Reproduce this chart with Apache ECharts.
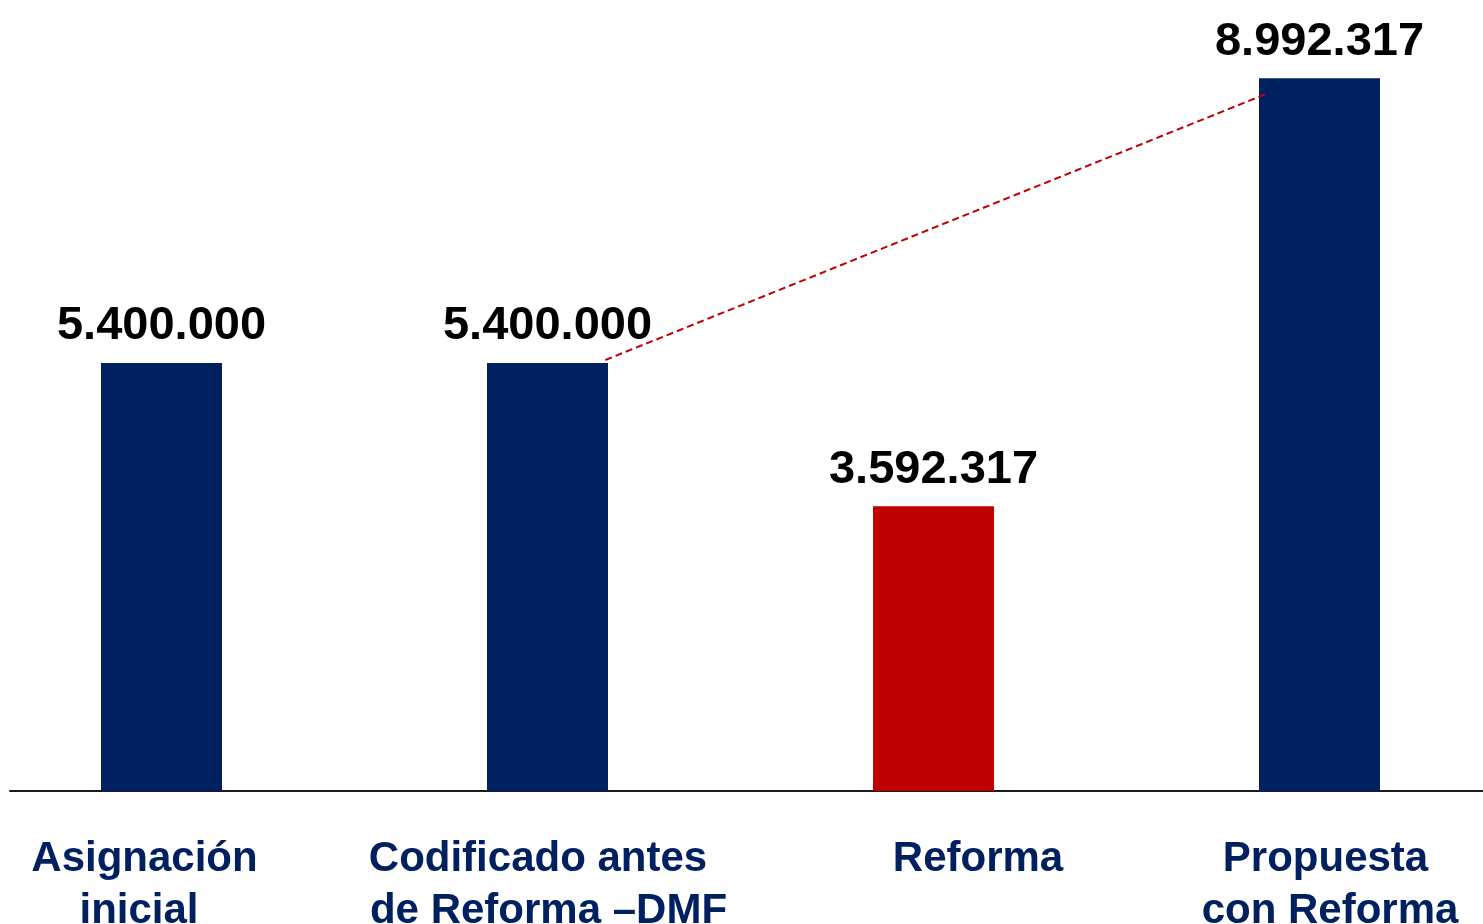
<!DOCTYPE html>
<html>
<head>
<meta charset="utf-8">
<script src="https://cdn.jsdelivr.net/npm/echarts@6/dist/echarts.min.js"></script>
<style>
  html, body { margin: 0; padding: 0; background: #fff; }
  #chart { width: 1483px; height: 924px; }
</style>
</head>
<body>
<div id="chart"></div>
<script>
// categories (each line of the axis label)
const categories = [
    ['Asignación', 'inicial'],
    ['Codificado antes', 'de Reforma –DMF'],
    ['Reforma'],
    ['Propuesta', 'con Reforma']
];
const amounts = [5400000, 5400000, 3592317, 8992317];
// dashed connector: [category position, value]
const connector = [[1.150, 5438000], [2.866, 8803000]];

const NAVY = '#002060';
const RED = '#C00000';
const barColors = [NAVY, NAVY, RED, NAVY];
const FONT = "'Liberation Sans', Arial, sans-serif";

// horizontal shift of each label line (px), the text boxes were not centred
const labelShift = [[-17, -22.5], [-9.5, 1], [44.5], [6, 10.5]];

const rich = {};
categories.forEach((lines, i) => {
    lines.forEach((line, j) => {
        const s = labelShift[i][j] || 0;
        rich['c' + i + 'l' + j] = {
            color: NAVY,
            fontFamily: FONT,
            fontWeight: 'bold',
            fontSize: 42,
            lineHeight: 52,
            padding: s > 0 ? [0, 0, 0, 2 * s] : [0, -2 * s, 0, 0]
        };
    });
});

const fmt = v => String(v).replace(/\B(?=(\d{3})+(?!\d))/g, '.');

const myChart = echarts.init(document.getElementById('chart'), null, { renderer: 'canvas' });

const option = {
    backgroundColor: '#ffffff',
    animation: false,
    grid: [
        { left: -31.5, right: -29.5, top: 0, bottom: 133, outerBoundsMode: 'none', containLabel: false },
        { left: 10, right: 0, top: 0, bottom: 133, outerBoundsMode: 'none', containLabel: false }
    ],
    xAxis: [
        {
            type: 'category',
            gridIndex: 0,
            data: categories.map((l, i) => i),
            axisLine: { show: false },
            axisTick: { show: false },
            axisLabel: {
                margin: 42,
                interval: 0,
                formatter: (v, idx) => categories[idx].map((line, j) => '{c' + idx + 'l' + j + '|' + line + '}').join('\n'),
                rich: rich
            }
        },
        {
            // hidden helper axis for the connector line
            type: 'value',
            gridIndex: 0,
            min: -0.5,
            max: 3.5,
            show: false
        },
        {
            // baseline drawn across the page
            type: 'value',
            gridIndex: 1,
            min: 0,
            max: 1,
            axisLine: { show: true, lineStyle: { color: '#1a1a1a', width: 2 } },
            axisTick: { show: false },
            axisLabel: { show: false },
            splitLine: { show: false }
        }
    ],
    yAxis: [
        { type: 'value', gridIndex: 0, min: 0, max: 9980000, show: false },
        { type: 'value', gridIndex: 1, min: 0, max: 1, show: false }
    ],
    series: [
        {
            type: 'bar',
            xAxisIndex: 0,
            yAxisIndex: 0,
            barWidth: 121,
            data: amounts.map((v, i) => ({ value: v, itemStyle: { color: barColors[i] } })),
            label: {
                show: true,
                position: 'top',
                distance: 13,
                color: '#000',
                fontFamily: FONT,
                fontWeight: 'bold',
                fontSize: 47,
                formatter: p => fmt(p.value)
            }
        },
        {
            type: 'line',
            xAxisIndex: 1,
            yAxisIndex: 0,
            data: connector,
            symbol: 'none',
            z: 5,
            lineStyle: { color: RED, width: 2, type: [7, 4] }
        }
    ]
};

option && myChart.setOption(option);
</script>
</body>
</html>
